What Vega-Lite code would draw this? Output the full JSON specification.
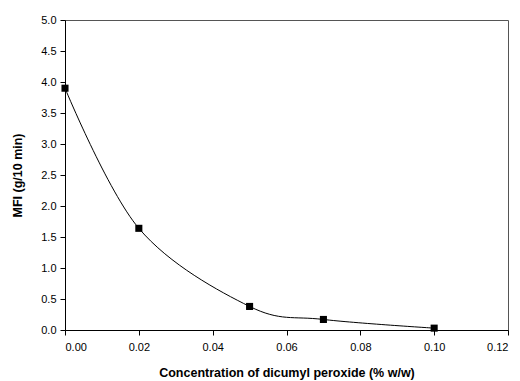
{
  "$schema": "https://vega.github.io/schema/vega-lite/v6.json",
  "width": 443,
  "height": 310,
  "autosize": {"type": "none"},
  "padding": {"left": 65, "top": 20, "right": 12, "bottom": 51},
  "background": "white",
  "config": {
    "view": {"stroke": "#555555", "strokeWidth": 1},
    "axis": {
      "labelFont": "Liberation Sans",
      "titleFont": "Liberation Sans",
      "labelFontSize": 11,
      "labelColor": "#000000",
      "titleFontSize": 12.5,
      "titleFontWeight": "bold",
      "titleColor": "#000000",
      "domainColor": "#000000",
      "tickColor": "#000000",
      "tickSize": 5,
      "grid": false
    }
  },
  "data": {
    "values": [
      {"x": 0.0, "y": 3.9},
      {"x": 0.02, "y": 1.64},
      {"x": 0.05, "y": 0.38},
      {"x": 0.07, "y": 0.17},
      {"x": 0.10, "y": 0.03}
    ]
  },
  "encoding": {
    "x": {
      "field": "x",
      "type": "quantitative",
      "scale": {"domain": [0, 0.12], "nice": false},
      "axis": {"values": [0, 0.02, 0.04, 0.06, 0.08, 0.1, 0.12], "format": ".2f", "title": "Concentration of dicumyl peroxide (% w/w)", "titlePadding": 14, "labelPadding": 6}
    },
    "y": {
      "field": "y",
      "type": "quantitative",
      "scale": {"domain": [0, 5], "nice": false},
      "axis": {"values": [0, 0.5, 1, 1.5, 2, 2.5, 3, 3.5, 4, 4.5, 5], "format": ".1f", "title": "MFI (g/10 min)", "titlePadding": 16, "labelPadding": 4}
    }
  },
  "layer": [
    {"mark": {"type": "line", "interpolate": "cardinal", "color": "#000000", "strokeWidth": 1}},
    {"mark": {"type": "square", "size": 50, "color": "#000000", "opacity": 1, "filled": true}}
  ]
}
